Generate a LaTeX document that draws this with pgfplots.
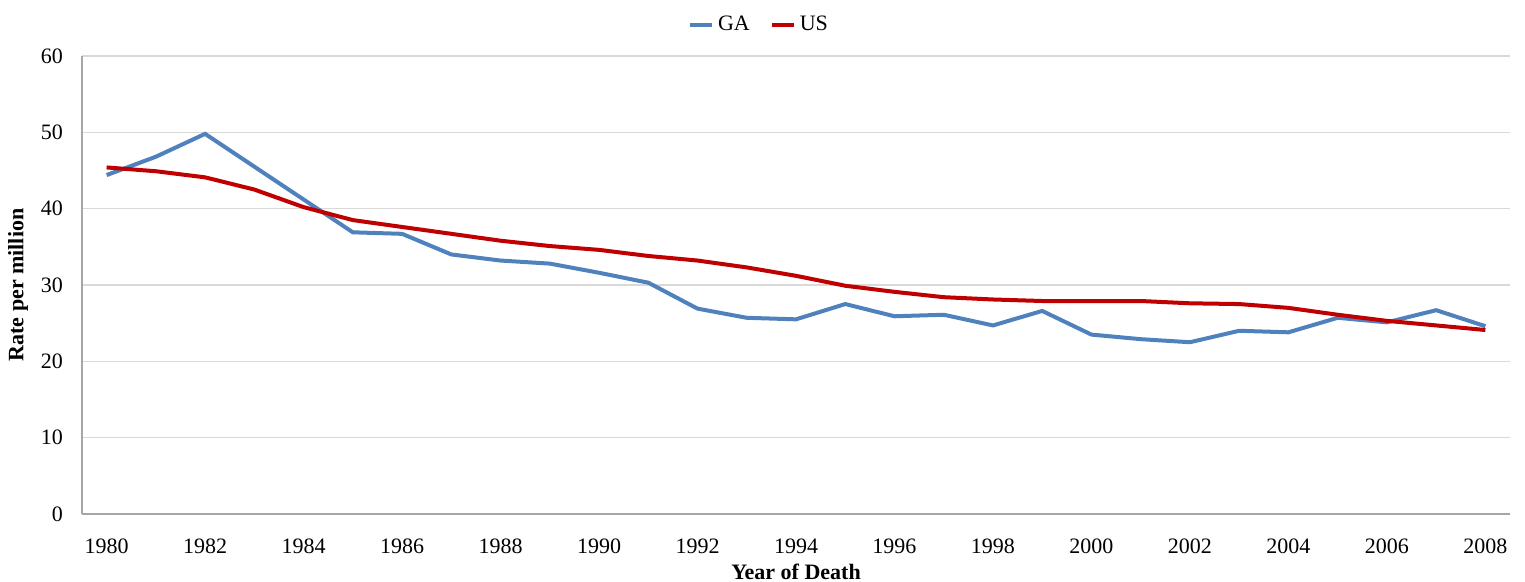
\documentclass[border=0pt]{standalone}
\usepackage{fontspec}
\setmainfont{Liberation Serif}
\usepackage{pgfplots}
\pgfplotsset{compat=1.18}
\definecolor{gablue}{RGB}{79,129,189}
\definecolor{usred}{RGB}{192,0,0}
\definecolor{gridgray}{RGB}{217,217,217}
\definecolor{axisgray}{RGB}{166,166,166}

\begin{document}
\begin{tikzpicture}
\begin{axis}[
  width=714pt, height=229pt, scale only axis,
  xmin=1979.5, xmax=2008.5, ymin=0, ymax=60,
  xtick={1980,1982,...,2008}, ytick={0,10,...,60},
  major tick length=0pt,
  /pgf/number format/1000 sep={},
  /pgf/number format/assume math mode=true,
  tick label style={font=\fontsize{11}{13}\selectfont},
  xticklabel style={anchor=center, yshift=-16pt},
  yticklabel style={xshift=-6pt},
  axis x line*=bottom, axis y line*=left,
  axis line style={axisgray, line width=0.6pt},
  ymajorgrids, grid style={gridgray, line width=0.6pt},
  xlabel={\textbf{Year of Death}},
  ylabel={\textbf{Rate per million}},
  xlabel style={font=\fontsize{11}{13}\selectfont, at={(axis description cs:0.5,0)},
    anchor=center, inner sep=0pt, yshift=-29pt},
  ylabel style={font=\fontsize{11}{13}\selectfont, at={(axis description cs:0,0.5)},
    anchor=center, inner sep=0pt, yshift=32pt},
  legend style={at={(0.5,1)}, anchor=center, xshift=-18pt, yshift=15.5pt,
    draw=none, font=\fontsize{11}{13}\selectfont, legend columns=2,
    /tikz/every even column/.append style={column sep=8pt}},
  legend image code/.code={\draw[#1] (0pt,0pt) -- (11pt,0pt);},
  every axis plot/.append style={line width=2pt, mark=none}
]
\addplot[gablue] coordinates {
  (1980,44.4)(1981,46.8)(1982,49.8)(1983,45.5)(1984,41.2)(1985,36.9)
  (1986,36.7)(1987,34.0)(1988,33.2)(1989,32.8)(1990,31.6)(1991,30.3)
  (1992,26.9)(1993,25.7)(1994,25.5)(1995,27.5)(1996,25.9)(1997,26.1)
  (1998,24.7)(1999,26.6)(2000,23.5)(2001,22.9)(2002,22.5)(2003,24.0)
  (2004,23.8)(2005,25.7)(2006,25.1)(2007,26.7)(2008,24.6)
};
\addlegendentry{GA}
\addplot[usred] coordinates {
  (1980,45.4)(1981,44.9)(1982,44.1)(1983,42.5)(1984,40.2)(1985,38.5)
  (1986,37.6)(1987,36.7)(1988,35.8)(1989,35.1)(1990,34.6)(1991,33.8)
  (1992,33.2)(1993,32.3)(1994,31.2)(1995,29.9)(1996,29.1)(1997,28.4)
  (1998,28.1)(1999,27.9)(2000,27.9)(2001,27.9)(2002,27.6)(2003,27.5)
  (2004,27.0)(2005,26.1)(2006,25.3)(2007,24.7)(2008,24.1)
};
\addlegendentry{US}
\end{axis}
% page margins as in the reference
\path (current axis.south west) ++(-41pt,-34pt);
\path (current axis.north east) ++(7.5pt,28pt);
\end{tikzpicture}
\end{document}
